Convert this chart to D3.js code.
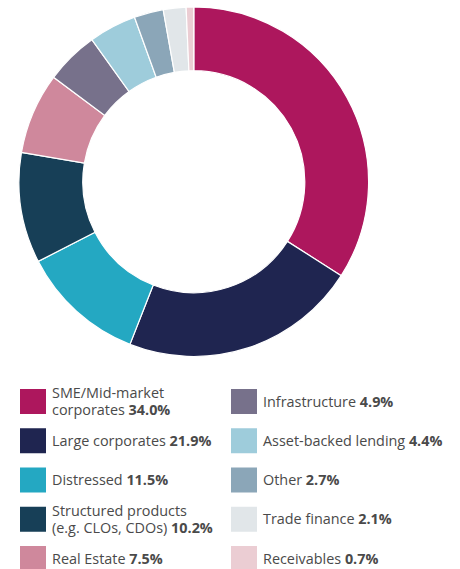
<!DOCTYPE html>
<html><head><meta charset="utf-8">
<script src="https://cdn.jsdelivr.net/npm/d3@7"></script>
<style>body{margin:0;background:#fff}svg{display:block}</style>
</head><body>
<script>
const categories = ["SME/Mid-market corporates","Large corporates","Distressed","Structured products (e.g. CLOs, CDOs)","Real Estate","Infrastructure","Asset-backed lending","Other","Trade finance","Receivables"];
const values = [34.0,21.9,11.5,10.2,7.5,4.9,4.4,2.7,2.1,0.7];
const valueLabels = ["34.0%","21.9%","11.5%","10.2%","7.5%","4.9%","4.4%","2.7%","2.1%","0.7%"];
const legendLines = [["SME/Mid-market","corporates"],["Large corporates"],["Distressed"],["Structured products","(e.g. CLOs, CDOs)"],["Real Estate"],["Infrastructure"],["Asset-backed lending"],["Other"],["Trade finance"],["Receivables"]];
const colors = ["#AD175D","#1F2550","#24A8C2","#173F57","#CF889C","#77718B","#9ECCDB","#8BA6B8","#E1E6E9","#EBCDD3"];

const W=460,H=569;
const svg=d3.select("body").append("svg").attr("width",W).attr("height",H);
const cx=193.8, cy=181.7, R=174.8, r0=111;
const color=d3.scaleOrdinal().domain(categories).range(colors);
const pie=d3.pie().sort(null).value(d=>d.v);
const data=categories.map((c,i)=>({c,v:values[i]}));
const arc=d3.arc().innerRadius(r0).outerRadius(R);
svg.append("g").attr("transform",`translate(${cx},${cy})`)
  .selectAll("path").data(pie(data)).join("path")
  .attr("d",arc).attr("fill",d=>color(d.data.c))
  .attr("stroke","#fff").attr("stroke-width",1.2);

const font="'Open Sans', sans-serif";
const rowY=d3.scalePoint().domain(d3.range(5)).range([401.5,558.5]);
const lg=svg.append("g").attr("font-family",font).attr("font-size",14.4).attr("fill","#4a4a4a");
categories.forEach((c,i)=>{
  const col=i<5?0:1, row=i%5;
  const sx=col?231:20, tx=col?263:52;
  const yc=rowY(row);
  lg.append("rect").attr("x",sx).attr("y",yc-12.5).attr("width",26).attr("height",25).attr("fill",color(c));
  const lines=legendLines[i];
  if(lines.length===1){
    const t=lg.append("text").attr("x",tx).attr("y",yc+5);
    t.append("tspan").text(lines[0]+" ");
    t.append("tspan").attr("font-weight","bold").text(valueLabels[i]);
  } else {
    lg.append("text").attr("x",tx).attr("y",yc-3.5).text(lines[0]);
    const t=lg.append("text").attr("x",tx).attr("y",yc+13.5);
    t.append("tspan").text(lines[1]+" ");
    t.append("tspan").attr("font-weight","bold").text(valueLabels[i]);
  }
});
</script>
</body></html>
